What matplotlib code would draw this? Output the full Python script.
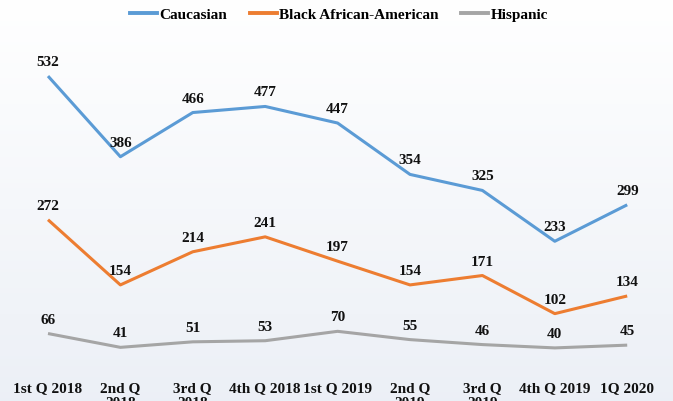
import numpy as np
import matplotlib.pyplot as plt
from matplotlib.lines import Line2D

quarters = ["1st Q 2018", "2nd Q\n2018", "3rd Q\n2018", "4th Q 2018", "1st Q 2019",
            "2nd Q\n2019", "3rd Q\n2019", "4th Q 2019", "1Q 2020"]
caucasian = [532, 386, 466, 477, 447, 354, 325, 233, 299]
black_african_american = [272, 154, 214, 241, 197, 154, 171, 102, 134]
hispanic = [66, 41, 51, 53, 70, 55, 46, 40, 45]

series = [
    ("Caucasian", caucasian, "#5B9BD5"),
    ("Black African-American", black_african_american, "#ED7D31"),
    ("Hispanic", hispanic, "#A5A5A5"),
]

plt.rcParams["font.family"] = ["Liberation Serif", "DejaVu Serif"]
plt.rcParams["font.weight"] = "bold"

fig = plt.figure(figsize=(6.73, 4.02), dpi=100)

# soft vertical background gradient
bg = fig.add_axes([0, 0, 1, 1], zorder=-10)
grad = np.linspace(0, 1, 256).reshape(-1, 1)
top = np.array([1.0, 1.0, 1.0])
bottom = np.array([0.925, 0.94, 0.965])
img = top + (bottom - top) * grad[..., None]
bg.imshow(img, aspect="auto", extent=[0, 1, 0, 1], origin="upper")
bg.axis("off")

ax = fig.add_axes([0, 31 / 402, 1, (371 - 39.5) / 402])
ax.patch.set_alpha(0)
x = np.arange(len(quarters))
step = 72.4
ax.set_xlim(-48 / step, (673 - 48) / step)
ax.set_ylim(0, 600)

handles = []
for name, vals, color in series:
    ax.plot(x, vals, color=color, lw=2.2, solid_capstyle="butt")
    for xi, v in zip(x, vals):
        ax.annotate(str(v), (xi, v), xytext=(0, 8), textcoords="offset pixels",
                    ha="center", va="bottom", fontsize=11, fontweight="bold",
                    color="#111111")
    handles.append(Line2D([], [], color=color, lw=2.8))

ax.set_xticks(x)
ax.set_xticklabels(quarters, fontsize=11, fontweight="bold", color="#111111",
                   linespacing=1.15)
ax.tick_params(axis="x", length=0, pad=8)
ax.set_yticks([])
for s in ax.spines.values():
    s.set_visible(False)

fig.legend(handles, [s[0] for s in series], loc="center", ncol=3,
           bbox_to_anchor=(339 / 673, 1 - 15 / 402), frameon=False,
           handlelength=1.75, handletextpad=0.15, columnspacing=1.5,
           prop={"weight": "bold", "size": 11})

fig.savefig("out.png", dpi=100)
